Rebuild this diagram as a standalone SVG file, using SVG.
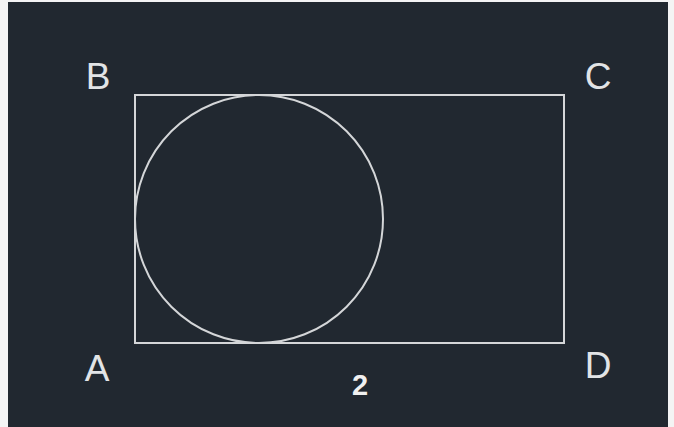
<svg xmlns="http://www.w3.org/2000/svg" width="674" height="427" viewBox="0 0 674 427">
<style>
.shape{fill:none;stroke:#d4d6d8;stroke-width:2}
.lbl{font-family:"Liberation Sans",Arial,sans-serif;font-size:37px;fill:#e2e4e6;text-anchor:middle}
.num{font-family:"Liberation Sans",Arial,sans-serif;font-size:29px;font-weight:bold;fill:#f0f0f0;text-anchor:middle}
</style>
<rect x="0" y="0" width="674" height="427" fill="#f4f4f4"/>
<rect x="8" y="2" width="660" height="425" fill="#212830"/>
<g id="rectangle"><rect class="shape" x="135" y="95" width="429" height="248"/></g>
<g id="circle"><circle class="shape" cx="259" cy="219" r="124"/></g>
<g id="connectors"></g>
<g id="label-B"><text class="lbl" x="98" y="89">B</text></g>
<g id="label-C"><text class="lbl" x="598" y="89">C</text></g>
<g id="label-A"><text class="lbl" x="97" y="381">A</text></g>
<g id="label-D"><text class="lbl" x="598" y="378">D</text></g>
<g id="label-2"><text class="num" x="360" y="395">2</text></g>
</svg>
